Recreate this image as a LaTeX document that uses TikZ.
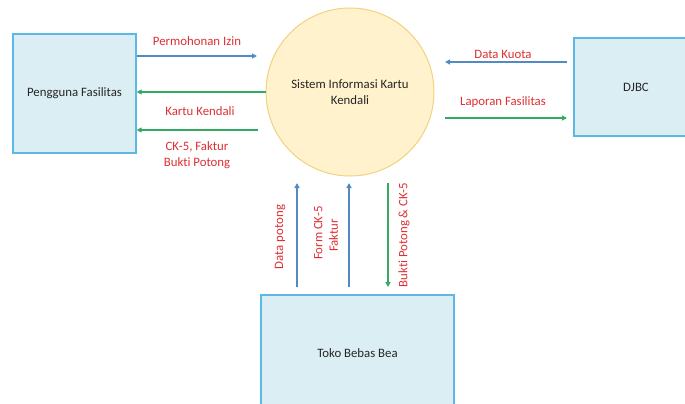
\documentclass[tikz,border=0pt]{standalone}
\usepackage{fontspec}
\setmainfont{Carlito}[Ligatures=NoCommon]
\usetikzlibrary{arrows.meta}
\definecolor{boxfill}{RGB}{219,238,244}
\definecolor{boxline}{RGB}{92,184,228}
\definecolor{procfill}{RGB}{255,242,204}
\definecolor{procline}{RGB}{240,210,128}
\definecolor{flowblue}{RGB}{84,138,196}
\definecolor{flowgreen}{RGB}{52,170,96}
\definecolor{labelred}{RGB}{222,48,52}
\tikzset{
  entity/.style={draw=boxline, fill=boxfill, line width=1.3pt, rectangle, inner sep=0pt, text=black!85},
  process/.style={draw=procline, fill=procfill, line width=1pt, circle, inner sep=0pt, text=black!85, align=center},
  bluef/.style={draw=flowblue, line width=1.3pt, -{Triangle[length=5pt,width=5pt]}},
  greenf/.style={draw=flowgreen, line width=1.3pt, -{Triangle[length=5pt,width=5pt]}},
  flowlabel/.style={text=labelred, inner sep=0pt, align=center},
}
\begin{document}
\begin{tikzpicture}[x=1pt, y=-1pt, font=\fontsize{12.8}{15.5}\selectfont]
\useasboundingbox (0,0) rectangle (685,404);
\fill[white] (0,0) rectangle (685,404);

% external entities and the process
\node[entity, minimum width=123pt, minimum height=119pt] (peng) at (74.5,93.5) {Pengguna Fasilitas};
\node[entity, minimum width=124pt, minimum height=98pt] (djbc) at (636,87) {DJBC};
\node[entity, minimum width=193pt, minimum height=116pt] (toko) at (357.5,353) {Toko Bebas Bea};
\node[process, minimum size=168pt] (sik) at (350,92) {Sistem Informasi Kartu\\Kendali};

% free ends of the flows
\coordinate (pin) at (257,56);
\coordinate (ck) at (258,130);
\coordinate (dk) at (567,62);
\coordinate (lf) at (445,118);
\coordinate (dp) at (297,183);
\coordinate (fc) at (349,183);
\coordinate (bp) at (388,183);

% flows between the left entity and the process
\draw[bluef] (peng.east |- pin) -- (pin);
\draw[greenf] (sik.west) -- (peng.east |- sik.west);
\draw[greenf] (ck) -- (peng.east |- ck);

% flows between the process and DJBC
\draw[bluef] (dk) -- (lf |- dk);
\draw[greenf] (lf) -- (dk |- lf);

% flows between Toko Bebas Bea and the process
\draw[bluef] (dp |- 0,287) -- (dp);
\draw[bluef] (fc |- 0,287) -- (fc);
\draw[greenf] (bp) -- (bp |- 0,287);

% flow labels
\node[flowlabel] (lpi) at (197,41) {Permohonan Izin};
\node[flowlabel] (lkk) at (200,111) {Kartu Kendali};
\node[flowlabel] (lck) at (197,155) {CK-5, Faktur\\Bukti Potong};
\node[flowlabel] (ldk) at (503,54) {Data Kuota};
\node[flowlabel] (llf) at (503,102) {Laporan Fasilitas};
\node[flowlabel, rotate=90] (ldp) at (280,237) {Data potong};
\node[flowlabel, rotate=90, align=left] (lfc) at (326,233) {Form CK-5\\\hspace*{8pt}Faktur};
\node[flowlabel, rotate=90] (lbp) at (404,235) {Bukti Potong \& CK-5};
\end{tikzpicture}
\end{document}
